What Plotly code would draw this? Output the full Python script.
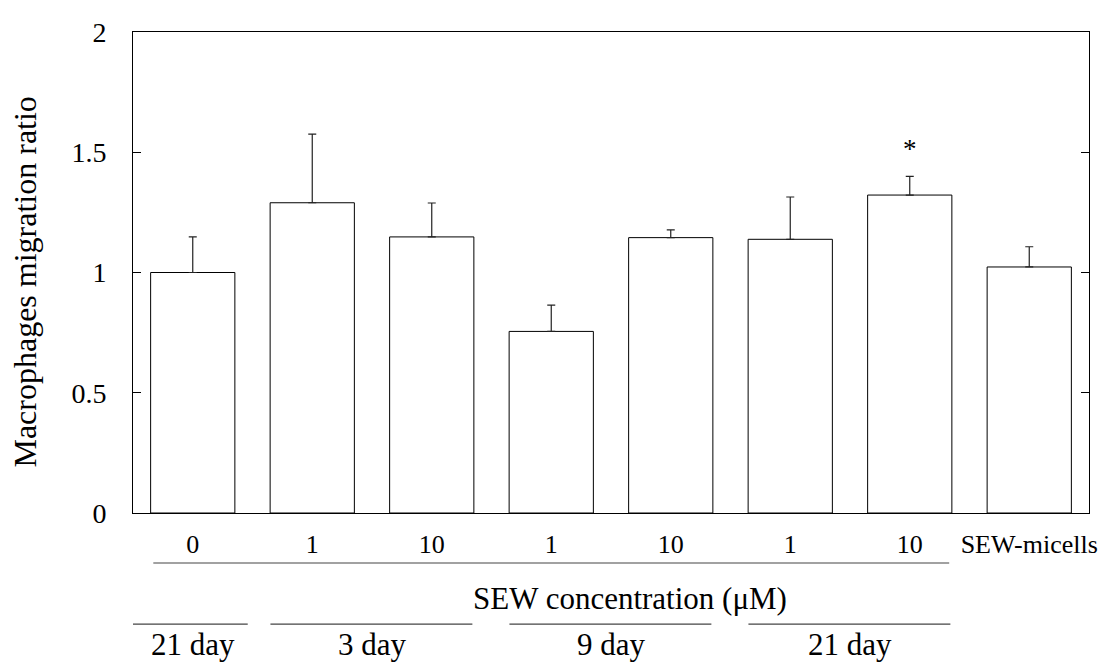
import plotly.graph_objects as go

# ---- data ----
tick_labels = ["0", "1", "10", "1", "10", "1", "10", "SEW-micells"]
values = [1.00, 1.29, 1.148, 0.755, 1.145, 1.138, 1.322, 1.023]
errors = [0.148, 0.285, 0.141, 0.109, 0.032, 0.176, 0.078, 0.084]
significant = [False, False, False, False, False, False, True, False]
conc_label = "SEW concentration (μM)"
conc_group = (0, 6)
day_labels = ["21 day", "3 day", "9 day", "21 day"]
day_starts = [0, 1, 3, 5]
day_ends = [0, 2, 4, 6]
y_title = "Macrophages migration ratio"

FONT = "Liberation Serif, Times New Roman, serif"
x = list(range(len(values)))

fig = go.Figure()
fig.add_trace(go.Bar(
    x=x, y=values, width=0.705,
    marker=dict(color="white", line=dict(color="black", width=1)),
    error_y=dict(type="data", array=errors, arrayminus=[0] * len(errors),
                 symmetric=False, color="#222", thickness=1.2, width=4),
    showlegend=False,
))

annotations = []
for i, s in enumerate(significant):
    if s:
        annotations.append(dict(x=i, y=values[i] + errors[i], xref="x", yref="y",
                                text="*", showarrow=False, yanchor="bottom",
                                yshift=10, font=dict(family=FONT, size=27, color="black")))

# y-axis title as rotated annotation for precise placement
annotations.append(dict(x=-0.1125, y=0.48, xref="paper", yref="paper", text=y_title,
                        textangle=-90, showarrow=False, xanchor="center", yanchor="middle",
                        font=dict(family=FONT, size=32, color="black")))

shapes = []
Y_CONC_LINE = -0.104
Y_CONC_TEXT = -0.177
Y_DAY_LINE = -0.231
Y_DAY_TEXT = -0.274
shapes.append(dict(type="line", xref="x", yref="paper",
                   x0=conc_group[0] - 0.33, x1=conc_group[1] + 0.33,
                   y0=Y_CONC_LINE, y1=Y_CONC_LINE, line=dict(color="#444", width=1.2)))
annotations.append(dict(x=(conc_group[0] + conc_group[1]) / 2 + 0.66, y=Y_CONC_TEXT,
                        xref="x", yref="paper", text=conc_label, showarrow=False,
                        yanchor="middle", font=dict(family=FONT, size=31, color="black")))

for lab, s, e in zip(day_labels, day_starts, day_ends):
    pad_l = 0.51 if s == e else 0.35
    pad_r = 0.46 if s == e else 0.34
    shapes.append(dict(type="line", xref="x", yref="paper",
                       x0=s - pad_l, x1=e + pad_r, y0=Y_DAY_LINE, y1=Y_DAY_LINE,
                       line=dict(color="#444", width=1.2)))
    annotations.append(dict(x=(s + e) / 2, y=Y_DAY_TEXT, xref="x", yref="paper",
                            text=lab, showarrow=False, yanchor="middle",
                            font=dict(family=FONT, size=31, color="black")))

fig.update_layout(
    width=1110, height=664,
    margin=dict(l=133, r=17, t=32, b=151),
    plot_bgcolor="white", paper_bgcolor="white",
    font=dict(family=FONT, color="black"),
    shapes=shapes, annotations=annotations,
    xaxis=dict(range=[-0.5, len(values) - 0.5], tickmode="array", tickvals=x,
               ticktext=tick_labels, ticks="", showgrid=False, zeroline=False,
               showline=True, linecolor="black", linewidth=1, mirror=True,
               tickfont=dict(family=FONT, size=26, color="black"),
               ticklabelstandoff=8),
    yaxis=dict(range=[0, 2], tickvals=[0, 0.5, 1, 1.5, 2],
               ticktext=["0", "0.5", "1", "1.5", "2"],
               ticks="inside", ticklen=8, tickcolor="black", tickwidth=1,
               showgrid=False, zeroline=False,
               showline=True, linecolor="black", linewidth=1, mirror="ticks",
               tickfont=dict(family=FONT, size=28, color="black"),
               ticklabelstandoff=20),
    bargap=0.295,
)

fig.write_html("out.html")
